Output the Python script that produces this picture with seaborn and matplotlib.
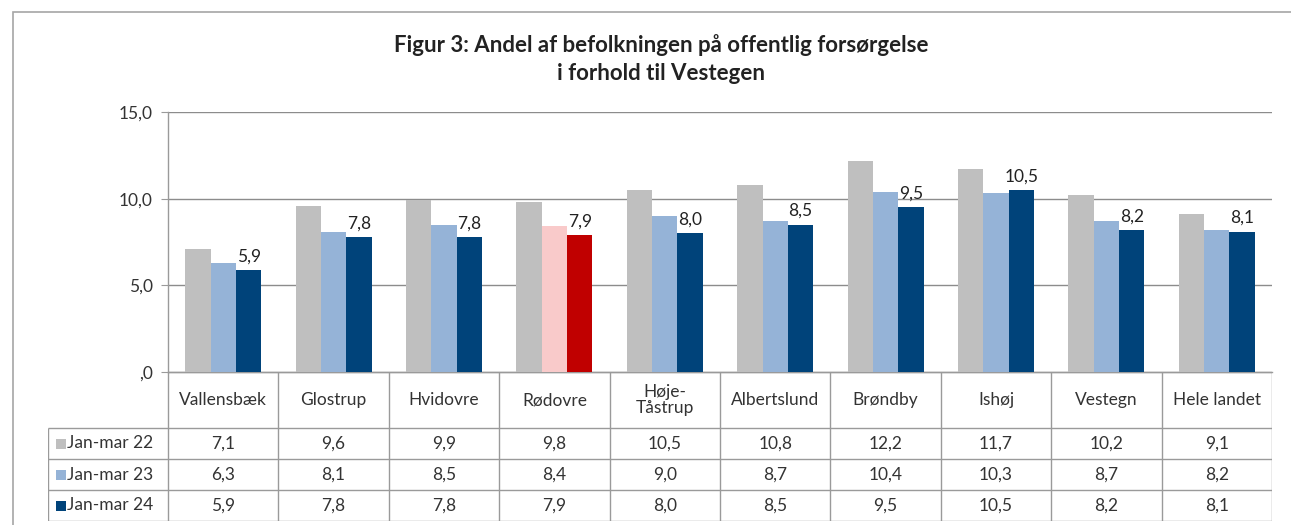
import pandas as pd
import numpy as np
import matplotlib
matplotlib.use('Agg')
import matplotlib.pyplot as plt
import seaborn as sns
from matplotlib.patches import Rectangle

kommuner = ['Vallensbæk', 'Glostrup', 'Hvidovre', 'Rødovre', 'Høje-\nTåstrup',
            'Albertslund', 'Brøndby', 'Ishøj', 'Vestegn', 'Hele landet']
perioder = ['Jan-mar 22', 'Jan-mar 23', 'Jan-mar 24']
jan_mar_22 = [7.1, 9.6, 9.9, 9.8, 10.5, 10.8, 12.2, 11.7, 10.2, 9.1]
jan_mar_23 = [6.3, 8.1, 8.5, 8.4, 9.0, 8.7, 10.4, 10.3, 8.7, 8.2]
jan_mar_24 = [5.9, 7.8, 7.8, 7.9, 8.0, 8.5, 9.5, 10.5, 8.2, 8.1]
y_ticks = [0, 5, 10, 15]
y_labels = [',0', '5,0', '10,0', '15,0']

farver = ['#BFBFBF', '#95B3D7', '#00437A']
fremhaev = 'Rødovre'
fremhaev_farver = ['#BFBFBF', '#F9CACA', '#C00000']

rows = []
for p, vals in zip(perioder, [jan_mar_22, jan_mar_23, jan_mar_24]):
    for k, v in zip(kommuner, vals):
        rows.append({'Kommune': k, 'Periode': p, 'Andel': v})
df = pd.DataFrame(rows)

sns.set_style('white')
plt.rcParams['font.family'] = ['Lato', 'DejaVu Sans']
txt = '#333333'
line = '#9A9A9A'
fs = 12.5

W, H = 1291, 525
fig = plt.figure(figsize=(W / 100, H / 100), dpi=100)

# outer chart frame
fig.patches.append(Rectangle((13 / W, -0.1), 1.2, 1 - 12 / H + 0.1, transform=fig.transFigure,
                             fill=False, edgecolor='#A6A6A6', lw=1.2))

x0, x1 = 168, 1272
y_top, y_bot = 112, 372
ax = fig.add_axes([x0 / W, 1 - y_bot / H, (x1 - x0) / W, (y_bot - y_top) / H])
sns.barplot(data=df, x='Kommune', y='Andel', hue='Periode', palette=farver,
            width=0.69, gap=0, saturation=1, linewidth=0, ax=ax, legend=False, zorder=3)

for c, farve in zip(ax.containers, fremhaev_farver):
    c[kommuner.index(fremhaev)].set_facecolor(farve)

ax.bar_label(ax.containers[2], labels=[f'{v:.1f}'.replace('.', ',') for v in jan_mar_24],
             padding=4, fontsize=fs, color='#222222')

ax.set_xlim(-0.5, len(kommuner) - 0.5)
ax.set_ylim(0, 15)
ax.set_yticks(y_ticks)
ax.set_yticklabels(y_labels, fontsize=fs, color=txt)
ax.set_xticks([])
ax.set_xlabel('')
ax.set_ylabel('')
ax.yaxis.grid(True, color='#8C8C8C', lw=1, zorder=0)
ax.tick_params(axis='y', length=5, color=line, pad=6, left=True)
for s in ['top', 'right']:
    ax.spines[s].set_visible(False)
for s in ['left', 'bottom']:
    ax.spines[s].set_color(line)
    ax.spines[s].set_linewidth(1)
ax.set_axisbelow(True)

fig.text(661 / W, 1 - 45 / H, 'Figur 3: Andel af befolkningen på offentlig forsørgelse',
         ha='center', va='center', fontsize=16, fontweight='bold', color='#222222')
fig.text(661 / W, 1 - 73 / H, 'i forhold til Vestegen',
         ha='center', va='center', fontsize=16, fontweight='bold', color='#222222')

# data table below the chart
t_left, t_bot = 48, 521
unit = (x1 - x0) / len(kommuner)
tax = fig.add_axes([t_left / W, 1 - t_bot / H, (x1 - t_left) / W, (t_bot - y_bot) / H])
tax.set_xlim(-0.5 - (x0 - t_left) / unit, len(kommuner) - 0.5)
tax.set_ylim(t_bot, y_bot)
tax.axis('off')
lx = -0.5 - (x0 - t_left) / unit
row_y = [y_bot, 428, 459, 490, 521]
lkw = dict(color=line, lw=1, solid_capstyle='butt')
tax.plot([-0.5, len(kommuner) - 0.5], [row_y[0], row_y[0]], **lkw)
for yy in row_y[1:]:
    tax.plot([lx, len(kommuner) - 0.5], [yy, yy], **lkw)
for i in range(len(kommuner) + 1):
    tax.plot([i - 0.5, i - 0.5], [row_y[0] - 6 if i < len(kommuner) else row_y[0], row_y[-1]], **lkw)
tax.plot([lx, lx], [row_y[1], row_y[-1]], **lkw)

for i, k in enumerate(kommuner):
    tax.text(i, (row_y[0] + row_y[1]) / 2, k, ha='center', va='center', fontsize=fs,
             color=txt, linespacing=1.05)
for r, (p, vals, f) in enumerate(zip(perioder, [jan_mar_22, jan_mar_23, jan_mar_24], farver)):
    yc = (row_y[r + 1] + row_y[r + 2]) / 2
    tax.add_patch(Rectangle((lx + 0.07, yc - 5), 0.09, 10, facecolor=f, edgecolor='none'))
    tax.text(lx + 0.17, yc, p, ha='left', va='center', fontsize=fs, color=txt)
    for i, v in enumerate(vals):
        tax.text(i, yc, f'{v:.1f}'.replace('.', ','), ha='center', va='center',
                 fontsize=fs, color=txt)

fig.savefig('out.png', dpi=100)
